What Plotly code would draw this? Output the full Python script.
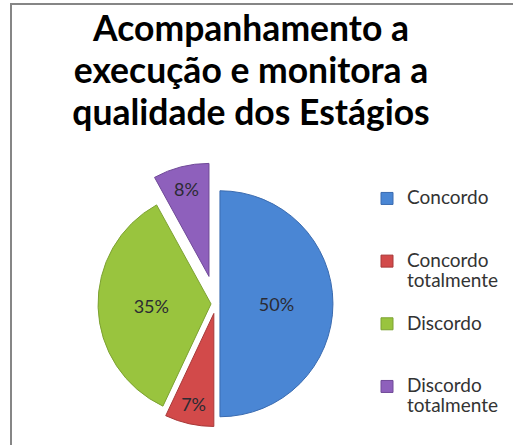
import plotly.graph_objects as go

categories = ["Concordo", "Concordo totalmente", "Discordo", "Discordo totalmente"]
legend_labels = ["Concordo", "Concordo<br>totalmente", "Discordo", "Discordo<br>totalmente"]
values = [50, 7, 35, 8]
colors = ["#4A86D4", "#D24A4A", "#99C43E", "#8E60BC"]
edge_colors = ["#3A6BB0", "#A83838", "#7DA232", "#704A98"]
pulls = [0.035, 0.088, 0.044, 0.25]
title_lines = ["Acompanhamento a", "execução e monitora a", "qualidade dos Estágios"]

W, H = 513, 445

def legend_text(t):
    lines = t.split("<br>")
    while len(lines) < 3:
        lines.append(" ")
    return "<br>".join("<span style='font-size:19px'>%s</span>" % l for l in lines)

title_text = "<br>".join("<span style='font-size:35.5px'>%s</span>" % l for l in title_lines)

fig = go.Figure()
fig.add_trace(go.Pie(
    labels=[legend_text(t) for t in legend_labels],
    values=values,
    sort=False,
    direction="clockwise",
    rotation=0,
    pull=pulls,
    marker=dict(colors=colors, line=dict(color=edge_colors, width=1)),
    textinfo="percent",
    textposition="inside",
    insidetextorientation="horizontal",
    textfont=dict(family="Lato", size=18, color="#2b2b33"),
    domain=dict(x=[0.1457, 0.6964], y=[0.0, 0.6348]),
    hoverinfo="skip",
))

fig.update_layout(
    width=W, height=H,
    margin=dict(l=0, r=0, t=0, b=0),
    paper_bgcolor="white",
    plot_bgcolor="white",
    title=dict(
        text=title_text,
        font=dict(family="Lato", size=32.3, color="#000000", weight="bold"),
        x=251 / W, xanchor="center",
        y=1 - 41 / H, yanchor="top",
    ),
    legend=dict(
        x=367 / W, xanchor="left",
        y=1 - 182 / H, yanchor="top",
        font=dict(family="Lato", size=15.3, color="#333333"),
        valign="top",
        bgcolor="rgba(0,0,0,0)",
        traceorder="normal",
    ),
    showlegend=True,
    shapes=[dict(
        type="rect", xref="paper", yref="paper",
        x0=11 / W, x1=1.05, y0=-0.05, y1=1 - 4 / H,
        line=dict(color="#868686", width=2),
        fillcolor="rgba(0,0,0,0)",
        layer="above",
    )],
)

fig.write_html("out.html", config={"displayModeBar": False},
               post_script="document.body.style.margin='0';")
